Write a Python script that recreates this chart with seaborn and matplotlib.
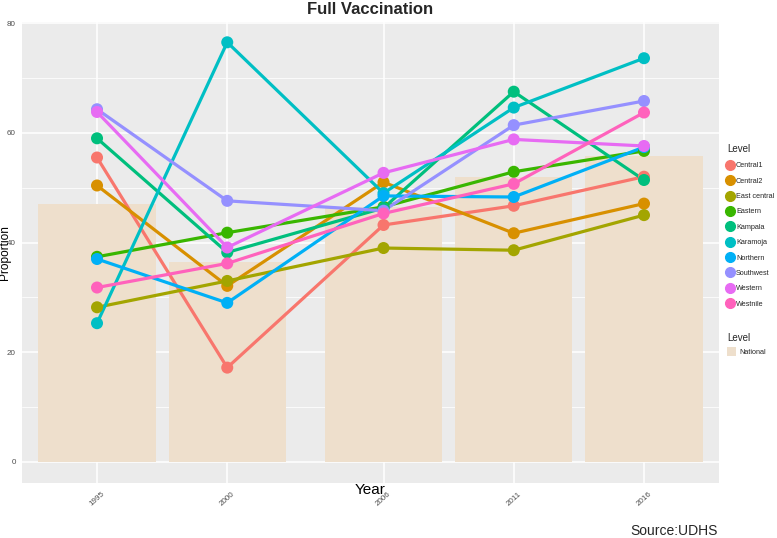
import matplotlib
matplotlib.use("Agg")
import matplotlib.pyplot as plt
import pandas as pd
import seaborn as sns
from matplotlib.lines import Line2D
from matplotlib.patches import Patch
from matplotlib.ticker import MultipleLocator

# Data
years = [1995, 2000, 2006, 2011, 2016]
national = [47.0, 36.5, 46.4, 52.0, 55.8]

central1 = [55.5, 17.2, 43.2, 46.7, 52.0]
central2 = [50.4, 32.1, 51.0, 41.7, 47.1]
east_central = [28.2, 33.0, 39.0, 38.6, 45.0]
eastern = [37.4, 41.8, 46.5, 52.9, 56.7]
kampala = [59.0, 38.2, 46.3, 67.5, 51.4]
karamoja = [25.3, 76.5, 49.0, 64.6, 73.6]
northern = [37.0, 29.0, 48.5, 48.3, 57.4]
southwest = [64.3, 47.6, 45.8, 61.4, 65.8]
western = [63.8, 39.1, 52.7, 58.8, 57.6]
westnile = [31.8, 36.2, 45.3, 50.7, 63.7]

levels = ['Central1', 'Central2', 'East central', 'Eastern', 'Kampala',
          'Karamoja', 'Northern', 'Southwest', 'Western', 'Westnile']
series = [central1, central2, east_central, eastern, kampala,
          karamoja, northern, southwest, western, westnile]
colors = ['#F8766D', '#D89000', '#A3A500', '#39B600', '#00BF7D',
          '#00BFC4', '#00B0F6', '#9590FF', '#E76BF3', '#FF62BC']
bar_color = '#EEDFCC'

rows = []
for lvl, vals in zip(levels, series):
    for yr, v in zip(years, vals):
        rows.append({'Year': yr, 'Proportion': v, 'Level': lvl})
df = pd.DataFrame(rows)
nat = pd.DataFrame({'Year': years, 'Proportion': national})

sns.set_theme(style="darkgrid")
plt.rcParams['font.family'] = ['Liberation Sans', 'DejaVu Sans']

fig = plt.figure(figsize=(7.77, 5.38), dpi=100)
ax = fig.add_axes([22 / 777, 1 - 483 / 538, 697 / 777, 461 / 538])
ax.set_facecolor('#EBEBEB')
ax.set_axisbelow(True)

sns.barplot(data=nat, x='Year', y='Proportion', native_scale=True, width=0.9,
            color=bar_color, saturation=1, errorbar=None, ax=ax, zorder=1,
            edgecolor='none', linewidth=0)
sns.lineplot(data=df, x='Year', y='Proportion', hue='Level', hue_order=levels,
             palette=colors, linewidth=2.3, legend=False, ax=ax, zorder=3)
sns.scatterplot(data=df, x='Year', y='Proportion', hue='Level', hue_order=levels,
                palette=colors, s=75, linewidth=0, legend=False, ax=ax, zorder=4)

ax.set_xlim(1992.12, 2018.88)
ax.set_ylim(-3.83, 80.2)
ax.set_xticks(years)
ax.set_xticklabels([str(y) for y in years])
ax.set_yticks([0, 20, 40, 60, 80])
ax.yaxis.set_minor_locator(MultipleLocator(10))
ax.grid(which='major', color='white', linewidth=1.1)
ax.grid(which='minor', axis='y', color='white', linewidth=0.55)
for s in ax.spines.values():
    s.set_visible(False)

ax.tick_params(axis='both', which='major', length=3, width=0.7, color='#333333',
               labelsize=5.8, labelcolor='#4D4D4D', pad=1.5)
ax.tick_params(axis='x', which='major', pad=2.5)
ax.tick_params(axis='y', which='minor', length=0)
for lab in ax.get_xticklabels():
    lab.set_rotation(42)
    lab.set_ha('center')

ax.set_xlabel('Year', fontsize=11, color='black')
ax.xaxis.set_label_coords(0.5, -0.0152)
ax.xaxis.label.set_va('center')
ax.set_ylabel('Proportion', fontsize=8.6, color='black')
ax.yaxis.set_label_coords(-0.0245, 0.5)
ax.yaxis.label.set_va('center')

fig.text(370 / 777, 1 - 9 / 538, 'Full Vaccination', ha='center', va='center',
         fontsize=12, fontweight='bold')
fig.text(718 / 777, 1 - 531 / 538, 'Source:UDHS', ha='right', va='center', fontsize=10)

handles = [Line2D([], [], color=c, marker='o', markersize=7, linewidth=1.5)
           for c in colors]
leg1 = fig.legend(handles, levels, title='Level', loc='upper left',
                  bbox_to_anchor=(727 / 777, 1 - 144 / 538), frameon=False,
                  fontsize=5.2, title_fontsize=7, handlelength=0.9,
                  handletextpad=0.35, labelspacing=1.15, alignment='left',
                  borderaxespad=0, borderpad=0)
leg2 = fig.legend([Patch(facecolor=bar_color, edgecolor='none')], ['National'],
                  title='Level', loc='upper left',
                  bbox_to_anchor=(727 / 777, 1 - 333 / 538), frameon=False,
                  fontsize=5.2, title_fontsize=7, handlelength=1.3,
                  handleheight=1.7, handletextpad=0.35, alignment='left',
                  borderaxespad=0, borderpad=0)

fig.savefig('out.png', dpi=100)
